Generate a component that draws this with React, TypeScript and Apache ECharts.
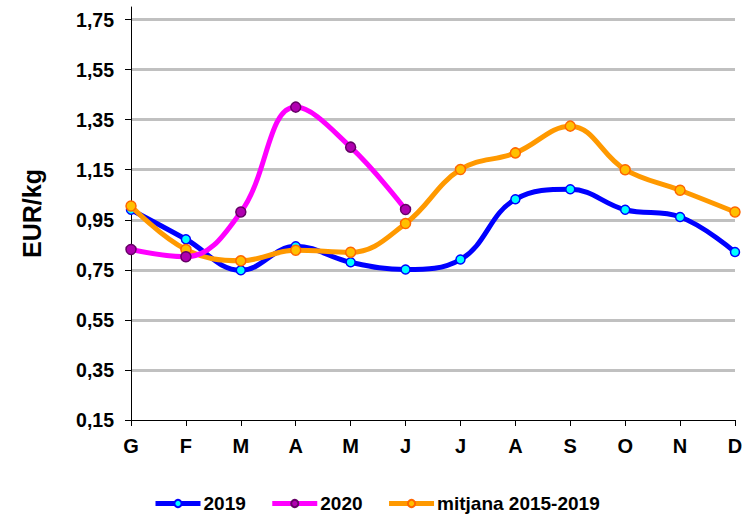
import React, { useEffect, useRef } from "react";
import * as echarts from "echarts";

const months = ["G", "F", "M", "A", "M", "J", "J", "A", "S", "O", "N", "D"];
const s2019 = [0.99, 0.872, 0.748, 0.844, 0.78, 0.751, 0.791, 1.032, 1.072, 0.99, 0.961, 0.821];
const s2020 = [0.831, 0.802, 0.981, 1.4, 1.24, 0.991, null, null, null, null, null, null];
const sMean = [1.005, 0.831, 0.786, 0.828, 0.82, 0.935, 1.151, 1.217, 1.324, 1.15, 1.068, 0.981];
const seriesNames = ["2019", "2020", "mitjana 2015-2019"];

export default function App() {
  const ref = useRef<HTMLDivElement>(null);
  useEffect(() => {
    if (!ref.current) return;
    const chart = echarts.init(ref.current, undefined, { renderer: "svg" });
    const font = "'Liberation Sans', Arial, sans-serif";
    chart.setOption({
      animation: false,
      backgroundColor: "#ffffff",
      textStyle: { fontFamily: font },
      grid: { left: 131, right: 12, top: 7, bottom: 96, containLabel: false },
      legend: {
        top: 489,
        left: 148,
        itemWidth: 45,
        itemHeight: 9,
        itemGap: 24,
        lineStyle: { width: 5 },
        textStyle: { fontSize: 19, fontWeight: "bold", color: "#000", fontFamily: font, padding: [0, 0, 0, -2] },
        data: seriesNames,
      },
      xAxis: {
        type: "category",
        data: months,
        boundaryGap: false,
        axisLine: { lineStyle: { color: "#000", width: 1 } },
        axisTick: { show: true, alignWithLabel: true, length: 6, lineStyle: { color: "#000" } },
        axisLabel: { fontSize: 20, fontWeight: "bold", color: "#000", margin: 16, fontFamily: font },
        splitLine: { show: false },
      },
      yAxis: {
        type: "value",
        min: 0.15,
        max: 1.8,
        interval: 0.2,
        name: "EUR/kg",
        nameLocation: "middle",
        nameRotate: 90,
        nameGap: 87,
        nameTextStyle: { fontSize: 25, fontWeight: "bold", color: "#000", fontFamily: font },
        axisLine: { show: true, lineStyle: { color: "#000", width: 1 } },
        axisTick: { show: true, length: 6, lineStyle: { color: "#000" } },
        axisLabel: {
          fontSize: 19.5,
          fontWeight: "bold",
          color: "#000",
          margin: 17,
          showMaxLabel: false,
          fontFamily: font,
          formatter: (v: number) => (v > 1.76 ? "" : v.toFixed(2).replace(".", ",")),
        },
        splitLine: {
          show: true,
          showMinLine: false,
          showMaxLine: false,
          lineStyle: { color: "#c0c0c0", width: 3 },
        },
      },
      series: [
        {
          name: seriesNames[0],
          type: "line",
          data: s2019,
          smooth: 0.4,
          symbol: "circle",
          symbolSize: 9,
          lineStyle: { color: "#0000ff", width: 5 },
          itemStyle: { color: "#00ffff", borderColor: "#0000ff", borderWidth: 1.5 },
          z: 2,
        },
        {
          name: seriesNames[1],
          type: "line",
          data: s2020,
          smooth: 0.4,
          symbol: "circle",
          symbolSize: 10,
          lineStyle: { color: "#ff00ff", width: 5 },
          itemStyle: { color: "#b000b0", borderColor: "#660066", borderWidth: 1.5 },
          z: 4,
        },
        {
          name: seriesNames[2],
          type: "line",
          data: sMean,
          smooth: 0.4,
          symbol: "circle",
          symbolSize: 10,
          lineStyle: { color: "#ff9900", width: 5 },
          itemStyle: { color: "#ffc000", borderColor: "#ff6600", borderWidth: 1.5 },
          z: 3,
        },
      ],
    });
    return () => chart.dispose();
  }, []);
  return <div ref={ref} style={{ width: 747, height: 516, position: "absolute", left: 0, top: 0 }} />;
}
